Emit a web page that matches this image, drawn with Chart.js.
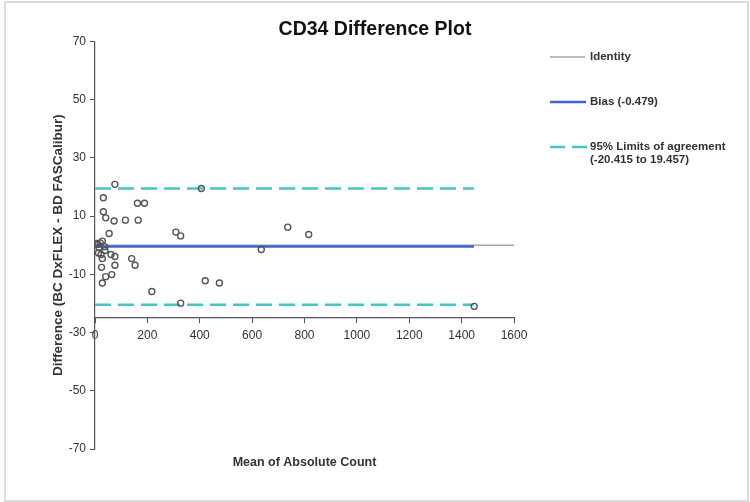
<!DOCTYPE html>
<html lang="en">

<head>
    <meta charset="UTF-8">
    <title>CD34 Difference Plot</title>
    <script src="https://cdn.jsdelivr.net/npm/chart.js@4.4.1/dist/chart.umd.min.js"></script>
    <style>
        html,
        body {
            margin: 0;
            padding: 0;
            background: #fff;
        }

        .wrap {
            position: relative;
            width: 750px;
            height: 502px;
        }

        .frame {
            position: absolute;
            left: 4px;
            top: 1px;
            width: 741px;
            height: 497px;
            border: 2px solid #dcdcdc;
        }

        canvas {
            position: absolute;
            left: 0;
            top: 0;
        }
    </style>
</head>

<body>
    <div class="wrap">
        <div class="frame"></div>
        <canvas id="diffChart" width="750" height="502"></canvas>
    </div>

    <script>
        // mean of absolute count (x) and difference DxFLEX - FASCalibur (y)
        const meanCount = [76, 406, 32, 162, 189, 32, 41, 73, 116, 165,
            54, 309, 327, 28, 5, 12, 20, 15, 37, 13,
            23, 38, 61, 76, 28, 140, 153, 76, 25, 64,
            41, 28, 217, 327, 421, 475, 736, 816, 635, 1448];
        const difference = [20.9, 19.5, 16.3, 14.4, 14.4, 11.5, 9.4, 8.3, 8.6, 8.6,
            4.0, 4.5, 3.2, 1.4, 0.6, 0.3, 0.8, -0.8, -0.5, -2.7,
            -3.2, -1.8, -3.2, -3.9, -4.6, -4.6, -6.9, -6.9, -7.6, -10.1,
            -10.8, -13.0, -15.9, -19.9, -12.2, -13.0, 6.2, 3.7, -1.5, -21.0];

        const bias = -0.479;
        const loaLower = -20.415;
        const loaUpper = 19.457;
        const lineEnd = 1447; // bias / limit lines stop at the last sample
        const xTicks = [0, 200, 400, 600, 800, 1000, 1200, 1400, 1600];
        const yTicks = [-70, -50, -30, -10, 10, 30, 50, 70];
        const xAxisAt = -25;

        const font = "'Liberation Sans', Arial, sans-serif";
        const grey = '#a6a6a6';
        const blue = '#3d62d6';
        const cyan = '#45c5c8';

        const points = meanCount.map((x, i) => ({ x: x, y: difference[i] }));

        // custom legend on the right, drawn like the original
        const sideLegend = {
            id: 'sideLegend',
            afterDraw(chart) {
                const ctx = chart.ctx;
                const x0 = chart.chartArea.right + 36;
                const tx = x0 + 40;
                ctx.save();
                ctx.font = 'bold 11.5px ' + font;
                ctx.fillStyle = '#333';
                ctx.textBaseline = 'middle';

                ctx.lineWidth = 1.5;
                ctx.strokeStyle = grey;
                ctx.beginPath(); ctx.moveTo(x0, 57); ctx.lineTo(x0 + 35, 57); ctx.stroke();
                ctx.fillText('Identity', tx, 57);

                ctx.lineWidth = 2.5;
                ctx.strokeStyle = blue;
                ctx.beginPath(); ctx.moveTo(x0, 102); ctx.lineTo(x0 + 36, 102); ctx.stroke();
                ctx.fillText('Bias (-0.479)', tx, 102);

                ctx.strokeStyle = cyan;
                ctx.setLineDash([15, 7]);
                ctx.beginPath(); ctx.moveTo(x0, 147); ctx.lineTo(x0 + 37, 147); ctx.stroke();
                ctx.setLineDash([]);
                ctx.fillText('95% Limits of agreement', tx, 147);
                ctx.fillText('(-20.415 to 19.457)', tx, 160);
                ctx.restore();
            }
        };

        new Chart(document.getElementById('diffChart'), {
            type: 'scatter',
            data: {
                datasets: [{
                    label: 'Samples',
                    data: points,
                    pointRadius: 3,
                    pointBorderWidth: 1.4,
                    pointBorderColor: '#555',
                    pointBackgroundColor: 'rgba(255,255,255,0)',
                    order: 0
                }, {
                    label: 'Bias (-0.479)',
                    data: [{ x: 0, y: bias }, { x: lineEnd, y: bias }],
                    showLine: true,
                    borderColor: blue,
                    borderWidth: 2.5,
                    pointRadius: 0,
                    order: 1
                }, {
                    label: '95% upper',
                    data: [{ x: 0, y: loaUpper }, { x: lineEnd, y: loaUpper }],
                    showLine: true,
                    borderColor: cyan,
                    borderWidth: 2.5,
                    borderDash: [16, 7],
                    pointRadius: 0,
                    order: 1
                }, {
                    label: '95% lower',
                    data: [{ x: 0, y: loaLower }, { x: lineEnd, y: loaLower }],
                    showLine: true,
                    borderColor: cyan,
                    borderWidth: 2.5,
                    borderDash: [16, 7],
                    pointRadius: 0,
                    order: 1
                }, {
                    label: 'Identity',
                    data: [{ x: 0, y: 0 }, { x: 1600, y: 0 }],
                    showLine: true,
                    borderColor: grey,
                    borderWidth: 1.5,
                    pointRadius: 0,
                    order: 2
                }]
            },
            options: {
                responsive: false,
                animation: false,
                layout: { padding: 0 },
                plugins: {
                    legend: { display: false },
                    tooltip: { enabled: false },
                    title: {
                        display: true,
                        text: 'CD34 Difference Plot',
                        color: '#111',
                        font: { family: font, size: 19.5, weight: 'bold' },
                        padding: { top: 18, bottom: 0 }
                    }
                },
                scales: {
                    x: {
                        type: 'linear',
                        min: 0,
                        max: 1600,
                        position: { y: xAxisAt },
                        afterBuildTicks: s => { s.ticks = xTicks.map(v => ({ value: v })); },
                        ticks: {
                            color: '#333', font: { family: font, size: 12 }, padding: 6,
                            callback: v => String(v)
                        },
                        grid: { drawOnChartArea: false, tickLength: 5, color: '#555' },
                        border: { color: '#555', width: 1.2 }
                    },
                    x2: {
                        type: 'linear',
                        min: 0,
                        max: 1600,
                        position: 'bottom',
                        ticks: { display: false },
                        grid: { display: false, drawTicks: false },
                        border: { display: false },
                        title: {
                            display: true,
                            text: 'Mean of Absolute Count',
                            color: '#333',
                            font: { family: font, size: 12.5, weight: 'bold' },
                            padding: { top: 6, bottom: 32 }
                        }
                    },
                    y: {
                        type: 'linear',
                        min: -70,
                        max: 70,
                        afterBuildTicks: s => { s.ticks = yTicks.map(v => ({ value: v })); },
                        afterFit: s => { s.width = 95; },
                        ticks: { color: '#333', font: { family: font, size: 12 }, padding: 4 },
                        grid: { drawOnChartArea: false, tickLength: 5, color: '#555' },
                        border: { color: '#555', width: 1.2 },
                        title: {
                            display: true,
                            text: 'Difference (BC DxFLEX - BD FASCalibur)',
                            color: '#333',
                            font: { family: font, size: 13.5, weight: 'bold' },
                            padding: { top: 50, bottom: 0 }
                        }
                    },
                    // empty right-hand axis that keeps room for the legend
                    yLegend: {
                        type: 'linear',
                        position: 'right',
                        min: -70,
                        max: 70,
                        afterFit: s => { s.width = 236; },
                        ticks: { display: false },
                        grid: { display: false, drawTicks: false },
                        border: { display: false }
                    }
                }
            },
            plugins: [sideLegend]
        });
    </script>
</body>

</html>
